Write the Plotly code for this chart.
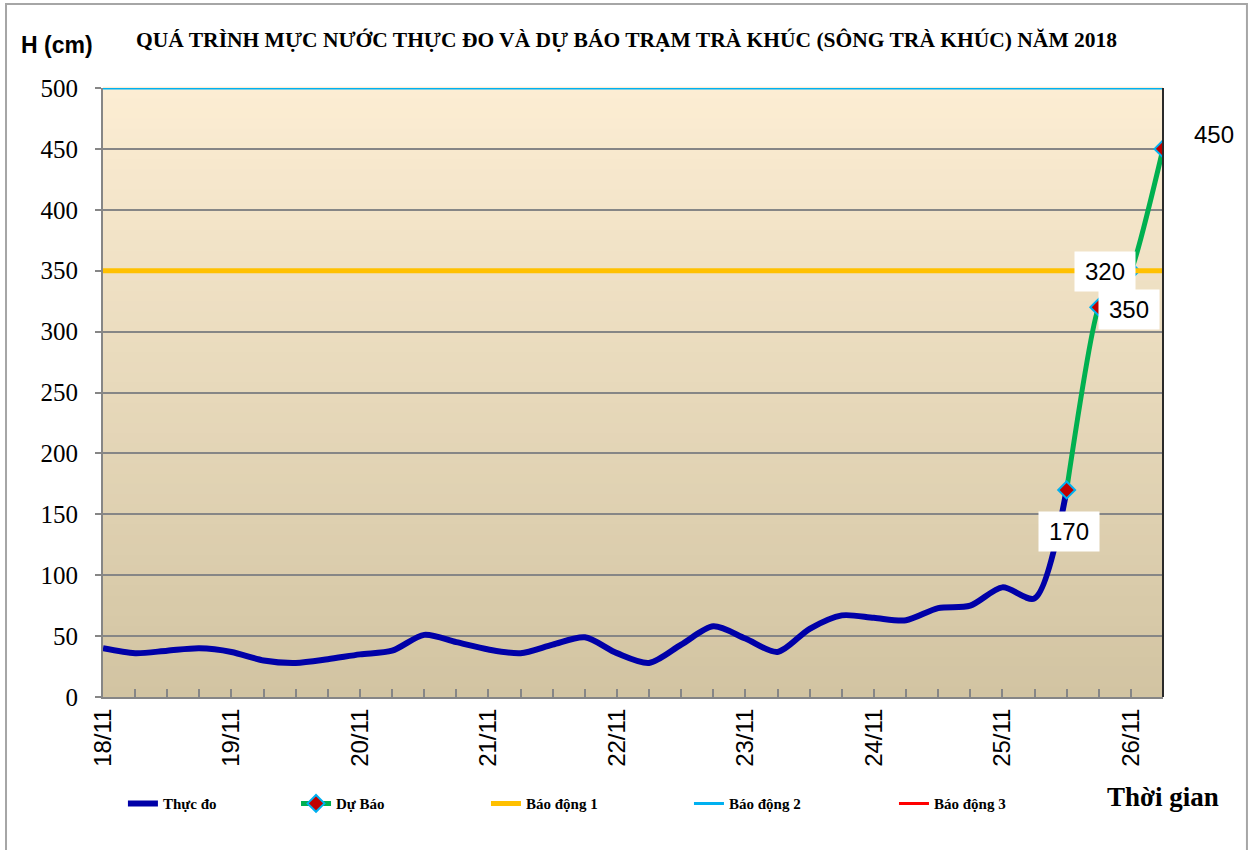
import plotly.graph_objects as go

# ---------------- data ----------------
DAY_LABELS = ["18/11", "19/11", "20/11", "21/11", "22/11",
              "23/11", "24/11", "25/11", "26/11"]
STEPS_PER_DAY = 4  # one value every 6 hours

# measured water level (cm), every 6 hours from 18/11
OBSERVED = [40, 36, 38, 40, 37, 30, 28, 31, 35, 38, 51, 45, 39, 36, 43, 49,
            36, 28, 43, 58, 48, 37, 56, 67, 65, 63, 73, 75, 90, 81, 170]
# forecast water level (cm), starting at the last measured step
FORECAST = [170, 320, 350, 450]
FORECAST_START = 30

ALARM_1 = 350
ALARM_2 = 500
ALARM_3 = 650

N_STEPS = FORECAST_START + len(FORECAST)
x_all = list(range(N_STEPS))
x_obs = list(range(len(OBSERVED)))
x_fc = list(range(FORECAST_START, FORECAST_START + len(FORECAST)))
day_ticks = [i * STEPS_PER_DAY for i in range(len(DAY_LABELS))]

SERIF = "Liberation Serif"
SANS = "Liberation Sans"

fig = go.Figure()

fig.add_trace(go.Scatter(
    x=x_obs, y=OBSERVED, mode="lines", name="Thực đo", legend="legend",
    line=dict(color="#0000A8", width=6, shape="spline", smoothing=0.8),
))
fig.add_trace(go.Scatter(
    x=x_fc, y=FORECAST, mode="lines+markers", name="Dự Báo", legend="legend2",
    line=dict(color="#00B050", width=5, shape="spline", smoothing=0.4),
    marker=dict(symbol="diamond", size=13, color="#C00000",
                line=dict(color="#00B0F0", width=2)),
))
fig.add_trace(go.Scatter(
    x=x_all, y=[ALARM_1] * N_STEPS, mode="lines", name="Báo động 1",
    legend="legend3", line=dict(color="#FFC000", width=5),
))
fig.add_trace(go.Scatter(
    x=x_all, y=[ALARM_2] * N_STEPS, mode="lines", name="Báo động 2",
    legend="legend4", line=dict(color="#00B0F0", width=3), cliponaxis=False,
))
fig.add_trace(go.Scatter(
    x=x_all, y=[ALARM_3] * N_STEPS, mode="lines", name="Báo động 3",
    legend="legend5", line=dict(color="#FF0000", width=3),
))

# ---------------- background gradient of plot area ----------------
top = (252, 237, 211)
bot = (210, 196, 162)
shapes = []
NSTRIP = 60
for k in range(NSTRIP):
    t = k / (NSTRIP - 1)
    c = tuple(int(round(bot[j] + (top[j] - bot[j]) * t)) for j in range(3))
    shapes.append(dict(type="rect", xref="x domain", yref="y domain",
                       x0=0, x1=1, y0=k / NSTRIP, y1=(k + 1) / NSTRIP + 0.002,
                       fillcolor="rgb(%d,%d,%d)" % c, line=dict(width=0),
                       layer="below"))
# right border of plot area
shapes.append(dict(type="line", xref="x domain", yref="y domain",
                   x0=1, x1=1, y0=0, y1=1,
                   line=dict(color="#2a2a2a", width=2)))
# outer chart frame
shapes.append(dict(type="rect", xref="paper", yref="paper",
                   x0=-0.0915, x1=1.0792, y0=-0.30, y1=1.138,
                   line=dict(color="#A6A6A6", width=2), layer="below"))

# ---------------- annotations ----------------
ann = []
ann.append(dict(text="QUÁ TRÌNH MỰC NƯỚC THỰC ĐO VÀ DỰ BÁO TRẠM TRÀ KHÚC (SÔNG TRÀ KHÚC) NĂM 2018",
                xref="paper", yref="paper", x=0.494, y=1.079, showarrow=False,
                xanchor="center", yanchor="middle",
                font=dict(family=SERIF, size=21.5, color="black", weight="bold")))
ann.append(dict(text="H (cm)", xref="paper", yref="paper", x=-0.0434, y=1.071,
                showarrow=False, xanchor="center", yanchor="middle",
                font=dict(family=SANS, size=23, color="black", weight="bold")))
ann.append(dict(text="Thời gian", xref="paper", yref="paper", x=1.0, y=-0.164,
                showarrow=False, xanchor="center", yanchor="middle",
                font=dict(family=SERIF, size=27, color="black", weight="bold")))

label_shift = [(2, -42), (6, 36), (-2, -39), (51, 14)]
for xi, v, (dx, dy) in zip(x_fc, FORECAST, label_shift):
    boxed = v != FORECAST[-1]
    ann.append(dict(text=str(v), x=xi, y=v, xref="x", yref="y",
                    xshift=dx, yshift=dy, showarrow=False,
                    xanchor="center", yanchor="middle",
                    width=58 if boxed else None, height=37 if boxed else None,
                    bgcolor="white" if boxed else None,
                    font=dict(family=SANS, size=24, color="black")))

legend_font = dict(family=SERIF, size=15, color="black", weight="bold")
legend_x = [0.0188, 0.1821, 0.3613, 0.5528, 0.7462]
legends = {}
for i, lx in enumerate(legend_x):
    key = "legend" if i == 0 else "legend%d" % (i + 1)
    legends[key] = dict(orientation="h", x=lx, y=-0.148, xanchor="left",
                        yanchor="top", font=legend_font,
                        bgcolor="rgba(0,0,0,0)")

fig.update_layout(
    width=1253, height=850,
    margin=dict(l=103, r=90, t=88, b=153),
    paper_bgcolor="white", plot_bgcolor="#E8DDC0",
    shapes=shapes, annotations=ann,
    showlegend=True,
    xaxis=dict(range=[0, N_STEPS - 1], tickvals=day_ticks, ticktext=DAY_LABELS,
               tickangle=-90, ticks="inside", ticklen=8, tickwidth=2,
               tickcolor="#868686", showgrid=False, zeroline=False,
               showline=True, linecolor="#868686", linewidth=2,
               tickfont=dict(family=SANS, size=24, color="black"),
               minor=dict(dtick=1, ticks="inside", ticklen=8, tickwidth=2,
                          tickcolor="#868686", showgrid=False)),
    yaxis=dict(range=[0, 500], dtick=50, ticks="outside", ticklen=6, tickwidth=2,
               tickcolor="#868686", showgrid=True, gridcolor="#868686",
               gridwidth=2, zeroline=False, showline=True, linecolor="#868686",
               linewidth=2, ticklabelstandoff=12,
               tickfont=dict(family=SERIF, size=25, color="black")),
    **legends,
)

fig.write_html("out.html", config={"displayModeBar": False},
               post_script="document.body.style.margin='0';")
